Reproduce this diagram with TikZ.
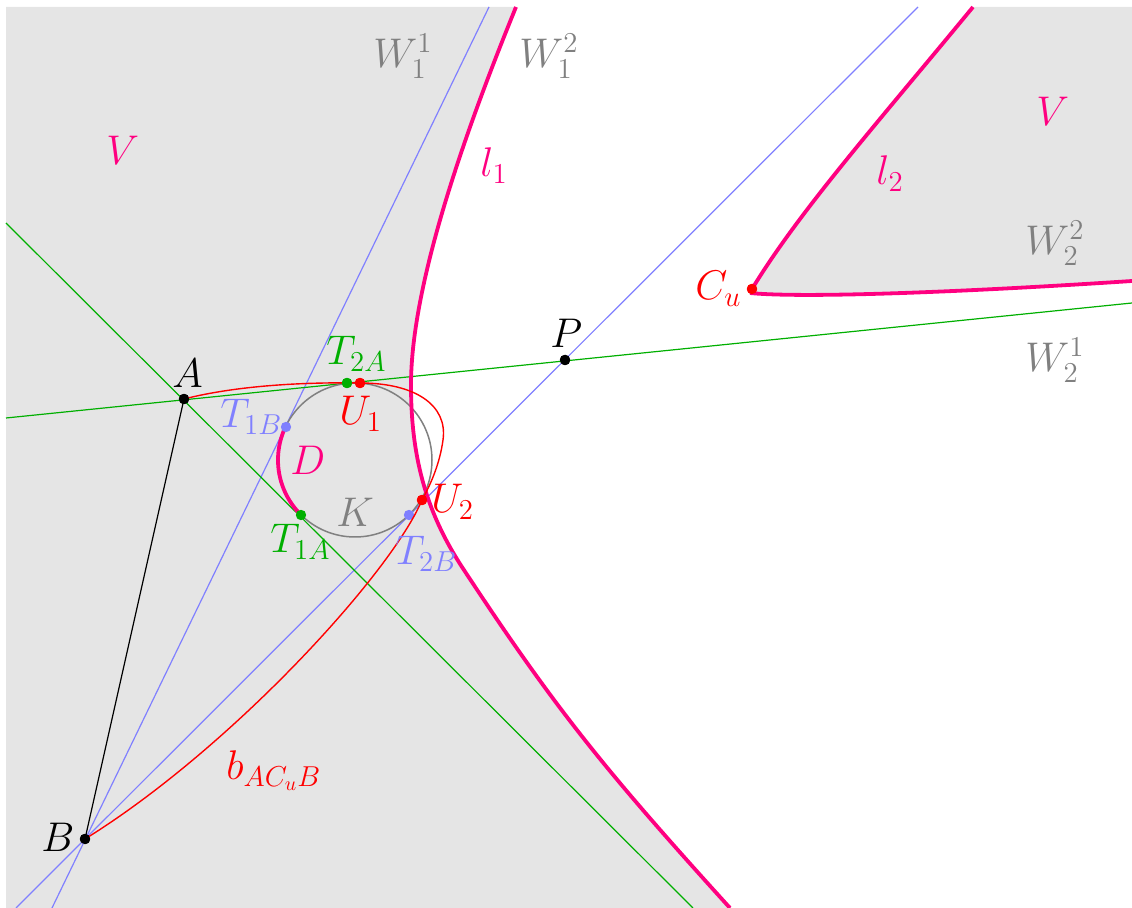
\documentclass[tikz,border=0pt]{standalone}
\definecolor{mgt}{RGB}{255,0,128}
\definecolor{grayfill}{RGB}{229,229,229}
\definecolor{lblue}{RGB}{128,128,255}
\definecolor{ggreen}{RGB}{0,175,0}
\definecolor{tgray}{RGB}{128,128,128}
\begin{document}
\begin{tikzpicture}[x=0.5pt,y=-0.5pt,
  every node/.style={font=\fontsize{20.5}{24}\selectfont, inner sep=0pt},
  dot/.style={circle, fill=#1, inner sep=0pt, minimum size=5.2pt},
  lbl/.style={anchor=base west, text=#1},
  thinline/.style={line width=0.6pt},
  thickline/.style={line width=1.9pt, mgt, line join=round}]
\useasboundingbox (0,0) rectangle (1132,908);
% curve end points
\coordinate (l1top) at (516,7);   \coordinate (l1v) at (411,385);
\coordinate (l1m) at (462,567);   \coordinate (l1bot) at (730,908);
\coordinate (l2top) at (973,7);   \coordinate (l2low) at (750,293);
\coordinate (l2r) at (1132,281);
% shaded regions V
\fill[grayfill] (6,908) -- (6,7) -- (l1top) .. controls (470,120) and (411,280) .. (l1v)
  .. controls (411,455) and (425,510) .. (l1m)
  .. controls (554,707) and (603,768) .. (l1bot) -- cycle;
\fill[grayfill] (1132,7) -- (l2top) .. controls (880,120) and (800,210) .. (752,289)
  -- (l2low) .. controls (800,298) and (950,293) .. (l2r) -- cycle;
% line end points
\coordinate (g1a) at (6,418);   \coordinate (g1b) at (1132,303);
\coordinate (g2a) at (6,223);   \coordinate (g2b) at (693,908);
\coordinate (b1a) at (489,7);   \coordinate (b1b) at (52,908);
\coordinate (b2a) at (918,7);   \coordinate (b2b) at (16,908);
% points
\node[dot=black] (A) at (184,399) {};
\node[dot=black] (B) at (85,839) {};
\node[dot=black] (P) at (565,360) {};
\coordinate (K) at (355,460);
% lines
\draw[thinline, lblue] (b1a) -- (b1b);
\draw[thinline, lblue] (b2a) -- (b2b);
\draw[thinline, ggreen] (g1a) -- (g1b);
\draw[thinline, ggreen] (g2a) -- (g2b);
\draw[thinline, black] (A.center) -- (B.center);
% circle K
\draw[line width=0.75pt, tgray] (K) circle[radius=38.5pt];
% arc D
\draw[thickline] plot[domain=134.5:205.6, samples=40] ({355+77*cos(\x)},{460+77*sin(\x)});
% magenta curves l1, l2
\draw[thickline] (l1top) .. controls (470,120) and (411,280) .. (l1v)
  .. controls (411,455) and (425,510) .. (l1m)
  .. controls (554,707) and (603,768) .. (l1bot);
\node[dot=red] (Cu) at (752,289) {};
\draw[thickline] (l2top) .. controls (880,120) and (800,210) .. (Cu.center);
\draw[thickline] (l2low) .. controls (800,298) and (950,293) .. (l2r);
% more points
\node[dot=ggreen] (T2A) at (347,383) {};
\node[dot=red] (U1) at (360,383) {};
\node[dot=lblue] (T1B) at (286,427) {};
\node[dot=ggreen] (T1A) at (301,515) {};
\node[dot=lblue] (T2B) at (409,515) {};
\node[dot=red] (U2) at (422,500) {};
% red bisector
\draw[line width=0.7pt, red] (A.center) .. controls (235,386) and (300,382) .. (U1.center)
  .. controls (415,383) and (448,405) .. (443,440)
  .. controls (440,462) and (432,482) .. (U2.center)
  .. controls (392,572) and (232,748) .. (B.center);
% redraw dots on top
\fill[black] (A) circle[radius=2.6pt];
\fill[black] (B) circle[radius=2.6pt];
\fill[black] (P) circle[radius=2.6pt];
\fill[ggreen] (T2A) circle[radius=2.6pt];
\fill[red] (U1) circle[radius=2.6pt];
\fill[red] (U2) circle[radius=2.6pt];
\fill[red] (Cu) circle[radius=2.6pt];
% labels
\node[lbl=mgt] (lV1) at (106,165) {$V$};
\node[lbl=tgray] (lW11) at (373,68) {$W_1^1$};
\node[lbl=tgray] (lW12) at (519,68) {$W_1^2$};
\node[lbl=mgt] (ll1) at (480,177) {$l_1$};
\node[lbl=mgt] (lV2) at (1036,126) {$V$};
\node[lbl=mgt] (ll2) at (876,185) {$l_2$};
\node[lbl=tgray] (lW22) at (1025,255) {$W_2^2$};
\node[lbl=tgray] (lW21) at (1025,372) {$W_2^1$};
\node[lbl=red] (lCu) at (695,300) {$C_u$};
\node[lbl=black] (lP) at (550,348) {$P$};
\node[lbl=black] (lA) at (172,388) {$A$};
\node[lbl=ggreen] (lT2A) at (326,365) {$T_{2A}$};
\node[lbl=red] (lU1) at (339,425) {$U_1$};
\node[lbl=lblue] (lT1B) at (220,428) {$T_{1B}$};
\node[lbl=mgt] (lD) at (290,475) {$D$};
\node[lbl=tgray] (lK) at (336,527) {$K$};
\node[lbl=red] (lU2) at (431,513) {$U_2$};
\node[lbl=ggreen] (lT1A) at (270,553) {$T_{1A}$};
\node[lbl=lblue] (lT2B) at (395,565) {$T_{2B}$};
\node[lbl=red] (lb) at (226,780) {$b_{AC_uB}$};
\node[lbl=black] (lB) at (41,852) {$B$};
\end{tikzpicture}
\end{document}
